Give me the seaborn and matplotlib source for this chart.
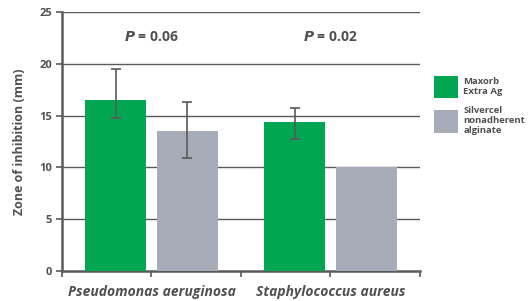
import seaborn as sns
import matplotlib.pyplot as plt
import pandas as pd

organisms = ["Pseudomonas aeruginosa", "Staphylococcus aureus"]
dressings = ["Maxorb\nExtra Ag", "Silvercel\nnonadherent\nalginate"]
maxorb_mm = [16.5, 14.4]
silvercel_mm = [13.5, 10.0]
maxorb_err_low = [1.7, 1.7]
maxorb_err_high = [3.0, 1.3]
silvercel_err_low = [2.6, 0.0]
silvercel_err_high = [2.8, 0.0]
p_values = ["0.06", "0.02"]

GREEN = "#00a651"
GREY = "#a6adb8"
TEXT = "#505050"
LINE = "#5a5a5a"


def main():
    sns.set_theme(style="white")
    plt.rcParams["font.family"] = ["Open Sans", "DejaVu Sans"]

    df = pd.DataFrame({
        "organism": organisms * 2,
        "dressing": [dressings[0]] * 2 + [dressings[1]] * 2,
        "zone": maxorb_mm + silvercel_mm,
    })

    fig = plt.figure(figsize=(5.28, 3.01), dpi=100)
    ax = fig.add_axes([0.1174, 0.0997, 0.678, 0.8605])

    sns.barplot(ax=ax, data=df, x="organism", y="zone", hue="dressing",
                order=organisms, hue_order=dressings,
                palette=[GREEN, GREY], errorbar=None, gap=0.15,
                saturation=1, linewidth=0, zorder=3, legend=True)

    # asymmetric error bars, positioned from the drawn bars
    errs = [(maxorb_mm, maxorb_err_low, maxorb_err_high),
            (silvercel_mm, silvercel_err_low, silvercel_err_high)]
    for container, (vals, lo, hi) in zip(ax.containers, errs):
        for bar, v, l, h in zip(container, vals, lo, hi):
            if l == 0 and h == 0:
                continue
            xc = bar.get_x() + bar.get_width() / 2
            ax.errorbar(xc, v, yerr=[[l], [h]], fmt="none", ecolor=LINE,
                        elinewidth=1.2, capsize=3.5, capthick=1.2, zorder=4)

    ax.set_xlim(-0.5, 1.5)
    ax.set_ylim(0, 25)
    ax.set_yticks([0, 5, 10, 15, 20, 25])
    ax.set_xticks([-0.5, 0, 0.5, 1, 1.5])
    ax.set_xticklabels(["", organisms[0], "", organisms[1], ""],
                       fontstyle="italic", fontweight="bold", fontsize=10, color=TEXT)
    for t in ax.get_yticklabels():
        t.set_fontweight("bold")
        t.set_color(TEXT)
        t.set_fontsize(8)

    for y in [5, 10, 15, 20, 25]:
        ax.axhline(y, color=LINE, linewidth=1, zorder=1)

    for s in ["top", "right"]:
        ax.spines[s].set_visible(False)
    for s in ["left", "bottom"]:
        ax.spines[s].set_color(LINE)
        ax.spines[s].set_linewidth(1.8)

    ax.tick_params(axis="y", direction="out", length=4, width=1.2, color=LINE, pad=3, left=True)
    ax.tick_params(axis="x", direction="out", length=4, width=1.2, color=LINE, pad=6, bottom=True)

    ax.set_xlabel("")
    ax.set_ylabel("Zone of inhibition (mm)", fontsize=9, fontweight="bold", color=TEXT, labelpad=10)

    for i, p in enumerate(p_values):
        ax.text(i, 22.6, f"$\\boldsymbol{{P}}$ = {p}", ha="center", va="center",
                fontsize=10, fontweight="bold", color=TEXT)

    handles, labels = ax.get_legend_handles_labels()
    ax.get_legend().remove()
    leg = fig.legend(handles, labels, loc="upper left", bbox_to_anchor=(0.822, 0.748),
                     frameon=False, fontsize=6.8, handlelength=2.5, handleheight=3.3,
                     labelspacing=0.77, handletextpad=0.6, labelcolor=TEXT,
                     borderpad=0, borderaxespad=0)
    for t in leg.get_texts():
        t.set_fontweight("bold")

    plt.savefig("out.png", dpi=100)


if __name__ == '__main__':
    main()
